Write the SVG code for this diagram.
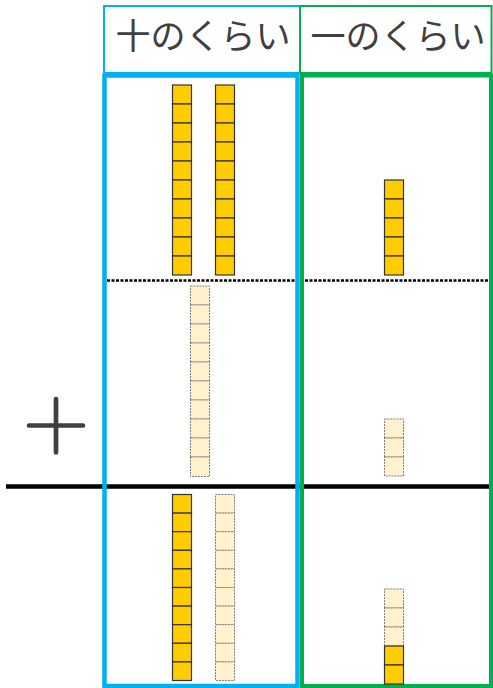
<svg xmlns="http://www.w3.org/2000/svg" width="493" height="688" viewBox="0 0 493 688">
<style>
.g{fill:#FFCC00;stroke:#333333;stroke-width:1.2}
.l{fill:#FFF2CC;stroke:#7f7f7f;stroke-width:1;stroke-dasharray:2 1}
.h{font-family:"Noto Sans CJK JP","Noto Sans CJK SC",sans-serif;font-size:35px;fill:#404040;text-anchor:middle}
</style>
<rect width="493" height="688" fill="#ffffff"/>
<g id="header">
<rect x="104" y="6" width="196" height="67" fill="none" stroke="#00B0F0" stroke-width="2"/>
<rect x="300" y="6" width="191.5" height="67" fill="none" stroke="#00B050" stroke-width="2"/>
<text class="h" x="203" y="49">十のくらい</text>
<text class="h" x="398" y="49">一のくらい</text>
</g>
<g id="connectors">
<line x1="107" y1="280.5" x2="490" y2="280.5" stroke="#000" stroke-width="2.5" stroke-dasharray="3 1.5"/>
<line x1="6" y1="486.5" x2="490" y2="486.5" stroke="#000" stroke-width="4.5"/>
</g>
<g id="plus">
<path d="M29 425.5H83M56 399V452.5" stroke="#404040" stroke-width="4.7" stroke-linecap="round" fill="none"/>
</g>
<g id="tens-box"><rect x="104.5" y="75.5" width="193" height="610.5" fill="none" stroke="#00B0F0" stroke-width="4.5"/></g>
<g id="ones-box"><rect x="302" y="75.5" width="189" height="610.5" fill="none" stroke="#00B050" stroke-width="4"/></g>
<g id="tens-top">
<rect class="g" x="172.5" y="85" width="19" height="19"/><rect class="g" x="172.5" y="104" width="19" height="19"/><rect class="g" x="172.5" y="123" width="19" height="19"/><rect class="g" x="172.5" y="142" width="19" height="19"/><rect class="g" x="172.5" y="161" width="19" height="19"/><rect class="g" x="172.5" y="180" width="19" height="19"/><rect class="g" x="172.5" y="199" width="19" height="19"/><rect class="g" x="172.5" y="218" width="19" height="19"/><rect class="g" x="172.5" y="237" width="19" height="19"/><rect class="g" x="172.5" y="256" width="19" height="19"/>
<rect class="g" x="215.5" y="85" width="19" height="19"/><rect class="g" x="215.5" y="104" width="19" height="19"/><rect class="g" x="215.5" y="123" width="19" height="19"/><rect class="g" x="215.5" y="142" width="19" height="19"/><rect class="g" x="215.5" y="161" width="19" height="19"/><rect class="g" x="215.5" y="180" width="19" height="19"/><rect class="g" x="215.5" y="199" width="19" height="19"/><rect class="g" x="215.5" y="218" width="19" height="19"/><rect class="g" x="215.5" y="237" width="19" height="19"/><rect class="g" x="215.5" y="256" width="19" height="19"/>
</g>
<g id="ones-top">
<rect class="g" x="384.5" y="180" width="19" height="19"/><rect class="g" x="384.5" y="199" width="19" height="19"/><rect class="g" x="384.5" y="218" width="19" height="19"/><rect class="g" x="384.5" y="237" width="19" height="19"/><rect class="g" x="384.5" y="256" width="19" height="19"/>
</g>
<g id="tens-mid">
<rect class="l" x="190.5" y="286" width="19" height="19"/><rect class="l" x="190.5" y="305" width="19" height="19"/><rect class="l" x="190.5" y="324" width="19" height="19"/><rect class="l" x="190.5" y="343" width="19" height="19"/><rect class="l" x="190.5" y="362" width="19" height="19"/><rect class="l" x="190.5" y="381" width="19" height="19"/><rect class="l" x="190.5" y="400" width="19" height="19"/><rect class="l" x="190.5" y="419" width="19" height="19"/><rect class="l" x="190.5" y="438" width="19" height="19"/><rect class="l" x="190.5" y="457" width="19" height="19.5"/>
</g>
<g id="ones-mid">
<rect class="l" x="384.5" y="419" width="19" height="19"/><rect class="l" x="384.5" y="438" width="19" height="19"/><rect class="l" x="384.5" y="457" width="19" height="19"/>
</g>
<g id="tens-bottom">
<rect class="g" x="172.5" y="494.5" width="19" height="18.6"/><rect class="g" x="172.5" y="513.1" width="19" height="18.6"/><rect class="g" x="172.5" y="531.7" width="19" height="18.6"/><rect class="g" x="172.5" y="550.3" width="19" height="18.6"/><rect class="g" x="172.5" y="568.9" width="19" height="18.6"/><rect class="g" x="172.5" y="587.5" width="19" height="18.6"/><rect class="g" x="172.5" y="606.1" width="19" height="18.6"/><rect class="g" x="172.5" y="624.7" width="19" height="18.6"/><rect class="g" x="172.5" y="643.3" width="19" height="18.6"/><rect class="g" x="172.5" y="661.9" width="19" height="18.6"/>
<rect class="l" x="215.5" y="494.5" width="19" height="18.6"/><rect class="l" x="215.5" y="513.1" width="19" height="18.6"/><rect class="l" x="215.5" y="531.7" width="19" height="18.6"/><rect class="l" x="215.5" y="550.3" width="19" height="18.6"/><rect class="l" x="215.5" y="568.9" width="19" height="18.6"/><rect class="l" x="215.5" y="587.5" width="19" height="18.6"/><rect class="l" x="215.5" y="606.1" width="19" height="18.6"/><rect class="l" x="215.5" y="624.7" width="19" height="18.6"/><rect class="l" x="215.5" y="643.3" width="19" height="18.6"/><rect class="l" x="215.5" y="661.9" width="19" height="18.6"/>
</g>
<g id="ones-bottom">
<rect class="l" x="384.5" y="589" width="19" height="19"/><rect class="l" x="384.5" y="608" width="19" height="19"/><rect class="l" x="384.5" y="627" width="19" height="19"/>
<rect class="g" x="384.5" y="646" width="19" height="19"/><rect class="g" x="384.5" y="665" width="19" height="19"/>
</g>
</svg>
